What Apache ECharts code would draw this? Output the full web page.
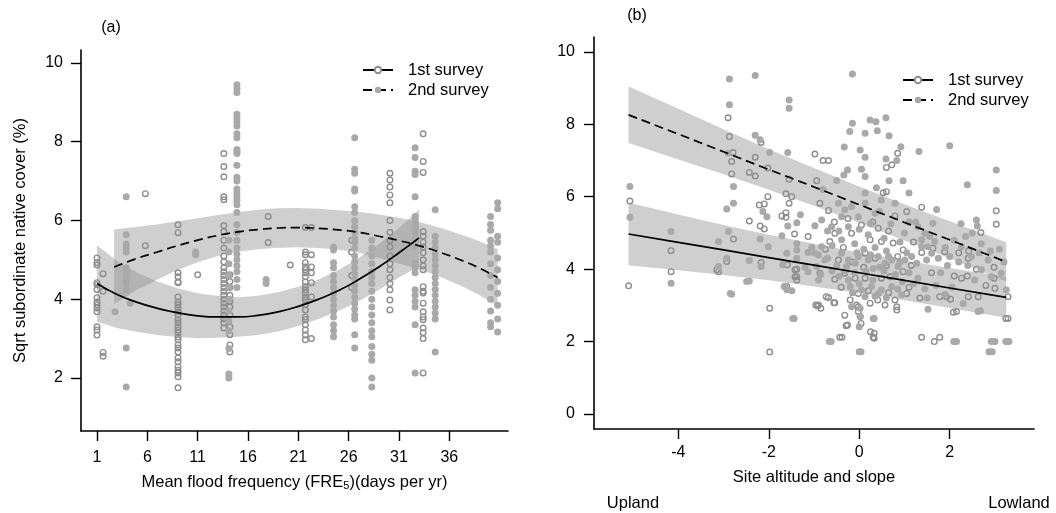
<!DOCTYPE html>
<html>
<head>
<meta charset="utf-8">
<script src="https://cdn.jsdelivr.net/npm/echarts@6/dist/echarts.min.js"></script>
<style>
html,body{margin:0;padding:0;background:#fff;}
#c{width:1056px;height:513px;}
</style>
</head>
<body>
<div id="c"></div>
<script>
// ---------- Panel (a) data ----------
const aXTicks = [1, 6, 11, 16, 21, 26, 31, 36];
const aYTicks = [2, 4, 6, 8, 10];
// 1st survey observations, grouped by flood frequency column
const aFirstCols = [
  [1, [5.05,4.93,4.87,4.42,4.37,4.25,4.04,3.93,3.86,3.78,3.68,3.30,3.22,3.09]],
  [1.6, [4.65,4.2,2.65,2.55]],
  [5.8, [6.68,5.36]],
  [9.05, [5.89,5.69,4.67,4.57,4.44,4.42,4.06,3.93,3.86,3.78,3.68,3.60,3.48,3.40,3.30,3.22,3.15,3.04,2.97,2.84,2.76,2.66,2.51,2.41,2.28,2.20,2.13,2.03,1.75]],
  [11, [4.62]],
  [13.6, [7.70,7.37,7.11,6.60,6.53,5.87,5.72,5.50,5.30,5.10,4.95,4.80,4.70,4.60,4.50,4.40,4.30,4.20,4.10,4.00,3.90,3.80,3.70,3.60,3.50,3.40,3.27]],
  [14.2, [4.62,4.45,4.30,4.10,3.95,3.80,3.60,3.30,3.10,2.84,2.66]],
  [18, [6.10,5.44]],
  [20.2, [4.87]],
  [21.7, [5.82,5.20,5.13,4.93,4.82,4.75,4.67,4.57,4.44,4.32,4.24,4.16,4.06,3.98,3.86,3.73,3.55,3.48,3.35,3.22,3.09,2.97]],
  [22.3, [5.82,5.13,4.82,4.67,4.42,4.06,3.00]],
  [26.3, [5.50,5.20,4.60,4.30]],
  [30.1, [7.20,7.03,6.85,6.65,6.45,6.00,5.70,5.50,5.33,5.10,4.90,4.75,4.55,4.40,4.24,3.98,3.73]],
  [33.4, [8.20,7.50,7.22,5.72,5.60,5.45,5.33,5.18,5.00,4.85,4.75,4.32,4.20,4.16,3.90,3.68,3.55,3.48,3.27,3.15,3.00,2.13]]
];
// 2nd survey observations
const aSecondCols = [
  [2.8, [3.68]],
  [3.9, [6.60,5.64,5.40,5.30,5.20,4.80,4.70,4.60,4.50,4.40,4.24,2.76,1.77]],
  [4.3, [3.90]],
  [10.8, [5.20,5.13]],
  [14.1, [5.50,5.20,4.90,4.60,4.30,4.00,3.70,3.45,3.20,2.75,2.10,2.00]],
  [14.9, [9.45,9.35,9.25,8.70,8.60,8.50,8.40,8.20,8.10,7.80,7.75,7.70,7.40,7.10,7.00,6.80,6.70,6.60,6.50,6.40,6.20,5.90,5.70,5.50,5.30,5.15,5.00,4.85,4.70,4.50,4.30]],
  [17.8, [4.50,4.40]],
  [24.5, [5.33,5.25,4.93,4.80,4.60,4.45,4.30,4.15,4.00,3.85,3.70,3.55,3.35,3.20,3.05]],
  [26.6, [8.10,7.30,7.20,6.80,6.75,6.35,6.20,6.00,5.85,5.70,5.55,5.45,5.30,5.10,4.95,4.80,4.65,4.50,4.35,4.20,4.05,3.90,3.75,3.60,3.50,3.10,2.76]],
  [28.3, [5.50,5.30,5.10,4.90,4.70,4.55,4.40,4.20,4.00,3.80,3.60,3.40,3.20,3.05,2.80,2.60,2.45,2.00,1.77]],
  [32.6, [7.85,7.60,7.25,7.17,6.60,6.10,6.00,5.85,5.70,5.50,5.35,4.93,4.80,4.67,4.24,4.10,3.95,3.80,3.35,2.13]],
  [34.6, [6.27,5.60,5.45,5.30,5.15,5.00,4.85,4.70,4.55,4.40,4.25,4.10,3.95,3.80,3.65,3.50,2.66]],
  [40.1, [6.10,5.90,5.75,5.50,5.35,5.20,4.90,4.60,4.30,4.00,3.70,3.40,3.30]],
  [40.8, [6.45,6.30,5.60,5.45,5.05,4.75,4.45,4.15,3.85,3.50,3.17]]
];
// fitted curves and confidence bands (a)
const aFitX1 = [1,3,5,7,9,11,13,15,17,19,21,23,25,27,29,31,33];
const aFit1  = [4.40,4.12,3.92,3.77,3.66,3.58,3.55,3.55,3.59,3.68,3.82,4.00,4.22,4.50,4.82,5.18,5.56];
const aHi1   = [5.37,4.97,4.67,4.45,4.28,4.15,4.08,4.05,4.09,4.18,4.32,4.50,4.74,5.05,5.40,5.81,6.28];
const aLo1   = [3.43,3.27,3.17,3.09,3.04,3.01,3.02,3.05,3.09,3.18,3.32,3.50,3.70,3.95,4.24,4.55,4.84];
const aFitX2 = [2.7,5,7,9,11,13,15,17,19,21,23,25,27,29,31,33,35,37,39,40.8];
const aFit2  = [4.82,5.04,5.20,5.36,5.50,5.62,5.71,5.77,5.81,5.82,5.80,5.76,5.70,5.60,5.49,5.36,5.20,5.01,4.79,4.55];
const aHi2   = [5.77,5.84,5.90,5.98,6.06,6.14,6.21,6.27,6.31,6.32,6.30,6.26,6.22,6.15,6.07,5.96,5.82,5.66,5.47,5.27];
const aLo2   = [3.87,4.24,4.50,4.74,4.94,5.10,5.21,5.27,5.31,5.32,5.30,5.26,5.18,5.05,4.91,4.76,4.58,4.36,4.11,3.83];

// ---------- Panel (b) data ----------
const bXTicks = [-4, -2, 0, 2];
const bYTicks = [0, 2, 4, 6, 8, 10];
const bFirstPts = [
  [-5.07,5.88],[-5.1,3.54],[-4.16,4.51],[-4.16,3.93],[-3.11,3.93],[-2.9,8.18],[-2.87,7.66],[-2.79,7.22],[-2.82,6.97],[-2.82,6.63],
  [-2.78,4.83],[-2.93,4.21],[-2.3,7.09],[-2.43,6.67],[-2.3,6.57],[-2.17,7.5],[-2.02,6.79],[-2.43,5.33],[-2.21,5.77],[-2.1,5.8],
  [-2.19,5.19],[-2.1,5.11],[-2.02,6.0],[-2.17,4.18],[-1.98,2.92],[-1.98,1.71],[-1.71,5.47],[-1.62,5.56],[-1.62,5.43],[-1.62,6.08],
  [-1.49,6.0],[-1.55,5.82],[-1.55,6.48],[-1.43,4.97],[-1.59,4.12],[-1.38,4.0],[-1.38,3.79],[-1.38,3.7],[-1.6,3.52],[-1.13,4.9],
  [-0.98,7.18],[-0.94,6.44],[-0.92,2.99],[-3.15,3.98],[-1.42,3.98],[-1.42,3.79],[-0.96,3.01],[-0.85,2.92],[-0.73,3.24],[-0.56,3.07],
  [-0.43,2.12],[-0.29,2.44],[-0.32,2.73],[-0.06,3.01],[-0.02,2.83],[0.02,2.69],[0.25,2.27],[0.31,2.12],[-0.68,7.0],[0.85,7.2],
  [0.6,6.81],[0.6,6.14],[0.72,6.88],[0.53,6.11],[-0.8,7.0],[3.03,5.61],[3.03,5.24],[1.38,5.71],[2.69,5.01],[-0.38,2.12],[1.38,2.12],
  [1.66,2.0],[1.78,2.12],[0.33,2.23],[0.33,2.09],[-0.26,2.46],[0.04,2.5],[-0.02,2.96],[3.29,3.24],[3.29,2.64],[2.15,2.83],
  [0.83,2.96],[0.83,2.87],[1.05,3.33],[1.34,3.2],[1.78,3.24],[1.93,3.24],[2.02,3.17],[2.41,3.24],[2.63,3.24],[2.98,4.05],
  [2.98,3.75],[3.0,3.47],[2.59,4.0],[1.38,4.46],[1.63,4.58],[1.89,4.48],[2.1,3.81],[2.26,3.75],[2.39,3.81],[2.41,4.3],
  [2.42,4.5],[-0.87,5.82],[-0.68,5.62],[-0.54,4.99],[-0.65,4.76],[-0.46,4.25],[-0.87,3.89],[-0.54,3.72],[-0.32,3.89],[-0.09,3.75],
  [0.13,3.75],[0.49,3.75],[0.68,3.79],[0.97,3.93],[-0.9,3.01],[-0.68,3.22],[-0.54,3.07],[-0.2,3.15],[-0.02,3.33],[0.24,3.06],
  [0.41,3.15],[0.57,3.01],[0.79,3.15],[-0.17,4.99],[0.05,5.22],[0.24,4.81],[0.49,4.76],[0.75,4.72],[0.97,4.53],[0.13,4.44],
  [0.42,5.13],[0.79,5.47],[1.05,5.59],[2.08,2.81],[3.24,2.64],
  [-0.75,4.55],[-0.35,4.6],[-0.15,4.2],[0.1,4.05],[0.35,4.3],[0.6,4.1],[0.85,4.35],[1.15,4.1],[-0.4,3.5],[0.2,3.4],
  [0.65,3.35],[1.1,3.5],[-0.25,5.4],[0.3,5.3],[0.65,5.05],[1.2,4.75],[-0.55,5.3],[1.6,3.9],[2.2,4.45],[2.8,3.55]
];
const bSecondPts = [
  [-5.07,6.28],[-5.07,5.43],[-4.16,5.04],[-4.16,3.61],[-3.11,4.76],[-3.11,4.07],[-2.87,9.25],[-2.3,9.35],[-2.87,8.54],[-1.55,8.67],
  [-1.55,8.44],[-2.3,7.7],[-2.19,7.57],[-1.98,7.22],[-1.58,7.22],[-2.9,7.2],[-2.78,6.28],[-2.78,5.82],[-2.93,5.66],[-2.89,5.04],
  [-2.93,4.3],[-2.82,3.31],[-2.43,4.24],[-2.43,3.67],[-2.13,5.59],[-2.04,5.45],[-2.19,4.83],[-2.01,4.62],[-2.17,4.07],[-1.44,2.64],
  [-1.71,4.92],[-1.58,5.19],[-1.38,5.28],[-1.38,4.7],[-1.6,4.44],[-1.38,4.53],[-1.38,4.3],[-1.64,3.52],[-1.49,3.4],[-1.13,4.46],
  [-1.13,3.93],[-0.9,4.39],[-0.9,3.7],[-0.98,5.2],[-1.69,4.12],[-2.85,3.33],[-2.49,3.66],[-1.66,3.52],[-1.6,3.43],[-1.47,2.64],
  [-0.66,2.0],[0,2.41],[0,1.72],[0.31,2.64],[1.52,2.89],[2.09,2.0],[2.63,2.83],[2.87,1.72],[2.92,2.0],[3.24,2.0],
  [-0.15,9.39],[-0.15,8.03],[0.24,8.12],[0.37,8.07],[0.59,8.18],[-0.21,7.8],[0.13,7.75],[0.4,7.82],[0.66,7.68],[-0.33,7.37],
  [0.02,7.29],[0.13,7.09],[0.92,7.38],[1.32,7.25],[2.0,7.41],[0.83,7.0],[0.59,7.04],[-0.26,6.74],[0.05,6.76],[0.13,6.56],
  [-0.34,6.6],[0.66,6.44],[0.97,6.44],[0.38,6.25],[2.39,6.33],[3.03,6.74],[3.03,6.17],[1.71,5.65],[1.63,5.27],[2.25,5.25],
  [2.59,5.36],[2.61,5.19],[-0.62,2.0],[0.04,1.72],[2.15,2.0],[2.94,1.72],[3.31,2.0],[3.0,2.0],[0.02,2.92],[0.02,2.69],
  [0.33,2.64],[2.68,2.85],[-0.98,4.44],[-0.83,4.62],[-0.76,4.25],[-0.94,4.07],[-0.39,4.44],[-0.24,4.25],[-0.28,4.07],[-0.09,4.16],
  [-0.02,4.35],[0.2,4.25],[0.31,4.02],[0.42,4.35],[0.57,4.16],[0.72,4.25],[0.86,4.07],[1.01,4.25],[1.16,4.35],[1.38,4.81],
  [1.45,4.99],[1.52,4.62],[-0.2,3.52],[0.05,3.43],[0.27,3.52],[0.49,3.43],[0.72,3.52],[0.13,3.24],[0.42,3.33],[-0.17,2.96],
  [0.94,3.29],[-0.24,3.7],[-0.83,5.36],[-0.61,5.17],[-0.39,5.45],[-0.32,5.64],[-0.46,5.82],[-0.24,5.17],[-0.39,4.81],[-0.02,5.45],
  [-0.17,5.73],[0.13,5.82],[0.35,5.54],[0.49,5.91],[0.79,5.82],[0.13,6.1],[1.3,5.17],[1.38,4.62],[1.49,4.25],[1.56,4.9],
  [1.6,4.44],[1.67,4.76],[1.27,4.16],[2.26,4.62],[2.48,4.35],[2.7,3.98],[2.92,3.79],[3.14,3.89],[2.85,4.25],[2.55,3.7],
  [3.25,3.43],[-0.6,3.95],[-0.45,3.8],[-0.1,3.9],[0.1,4.55],[0.35,4.6],[0.6,4.5],[0.8,3.85],[0.95,3.65],[1.1,3.9],
  [1.2,3.6],[0.0,3.6],[0.3,3.7],[0.55,3.95],[-0.7,4.3],[1.8,3.9],[1.95,4.1],[2.2,4.2],[1.7,3.55],[2.05,3.5],
  [1.9,4.6],[2.1,4.8],[2.35,4.9],[2.5,5.0],[2.7,4.7],[3.1,4.55],[3.2,4.2],[1.5,3.2],[1.9,3.3],[2.3,3.05],
  [-1.2,4.05],[-1.05,4.6],[-1.3,5.5],[-0.7,5.05],[-0.5,6.45],[-0.8,6.2],[1.1,6.1],[1.25,5.3],[1.0,5.0],[0.7,5.25],[0.45,5.6],
  [-0.5,4.1],[-0.3,3.95],[-0.05,4.45],[0.15,3.95],[0.25,4.4],[0.45,4.05],[0.65,4.35],[0.9,4.2],[1.05,4.45],[-0.85,3.85],
  [-0.15,3.35],[0.35,3.25],[0.6,3.2],[0.85,3.45],[1.3,3.75],[1.45,3.45],[-0.6,4.65],[-0.1,4.7],[0.2,4.95],[0.55,4.85],
  [0.9,4.75],[1.1,5.3],[-0.45,5.05],[0.0,5.1],[0.25,5.25],[1.75,4.3],[2.0,4.35],[2.4,4.1],[2.65,4.45],[2.9,4.5]
];
const bFitX = [-5.1,-4,-3,-2,-1,0,1,2,3.25];
const bFit1 = [4.97,4.74,4.53,4.32,4.11,3.90,3.69,3.48,3.22];
const bHi1  = [5.83,5.51,5.22,4.95,4.70,4.46,4.24,4.03,3.78];
const bLo1  = [4.11,3.97,3.84,3.69,3.52,3.34,3.14,2.93,2.66];
const bFit2 = [8.26,7.73,7.24,6.75,6.27,5.78,5.29,4.81,4.20];
const bHi2  = [9.04,8.43,7.86,7.31,6.79,6.28,5.79,5.32,4.74];
const bLo2  = [7.48,7.03,6.62,6.19,5.75,5.28,4.79,4.30,3.66];

// ---------- build ----------
const FONT = '"Liberation Sans", Arial, sans-serif';
const flat = cols => cols.flatMap(c => c[1].map(v => [c[0], v]));
const zip = (xs, ys) => xs.map((x, i) => [x, ys[i]]);
const rows = (xs, lo, hi) => xs.map((x, i) => [x, lo[i], hi[i]]);

function bandSeries(data, gi) {
  return {
    type: 'custom', xAxisIndex: gi, yAxisIndex: gi, z: 1, silent: true,
    encode: { x: 0, y: [1, 2] },
    data: data,
    renderItem: function (params, api) {
      if (params.dataIndex !== 0) return null;
      const up = data.map(r => api.coord([r[0], r[2]]));
      const dn = data.slice().reverse().map(r => api.coord([r[0], r[1]]));
      return { type: 'polygon', shape: { points: up.concat(dn) },
               style: { fill: 'rgba(140,140,140,0.42)' } };
    }
  };
}
function hollow(data, gi) {
  return { type: 'scatter', xAxisIndex: gi, yAxisIndex: gi, z: 2, silent: true,
    symbol: 'circle', symbolSize: 5.6, data: data,
    itemStyle: { color: 'rgba(0,0,0,0)', borderColor: '#8e8e8e', borderWidth: 1.4, opacity: 1 } };
}
function filled(data, gi) {
  return { type: 'scatter', xAxisIndex: gi, yAxisIndex: gi, z: 2, silent: true,
    symbol: 'circle', symbolSize: 7, data: data,
    itemStyle: { color: '#a9a9a9', opacity: 1 } };
}
function fitLine(name, data, gi, dashed, smooth) {
  return { name: name, type: 'line', xAxisIndex: gi, yAxisIndex: gi, z: 5, silent: true,
    data: data, smooth: smooth, showSymbol: false,
    symbol: dashed ? 'circle' : 'emptyCircle', symbolSize: 6,
    itemStyle: { color: dashed ? '#a9a9a9' : '#8e8e8e' },
    lineStyle: { color: '#000', width: 1.7, type: dashed ? [9, 5] : 'solid' } };
}
function xAx(gi, min, max, ticks, margin, name, gap) {
  return { type: 'value', gridIndex: gi, min: min, max: max,
    axisLine: { show: true, onZero: false, lineStyle: { color: '#000', width: 1.6 } },
    axisTick: { show: true, length: 10, customValues: ticks, lineStyle: { color: '#000', width: 1.4 } },
    axisLabel: { show: true, customValues: ticks, margin: margin, color: '#000', fontSize: 16, fontFamily: FONT },
    splitLine: { show: false },
    name: name, nameLocation: 'middle', nameGap: gap,
    nameTextStyle: { color: '#000', fontSize: 16.5, fontFamily: FONT,
      rich: { sub: { fontSize: 11, fontFamily: FONT, color: '#000', padding: [7, 0, 0, 0] } } } };
}
function yAx(gi, min, max, ticks, margin, name, gap) {
  return { type: 'value', gridIndex: gi, min: min, max: max,
    axisLine: { show: true, onZero: false, lineStyle: { color: '#000', width: 1.6 } },
    axisTick: { show: true, length: 10, customValues: ticks, lineStyle: { color: '#000', width: 1.4 } },
    axisLabel: { show: true, customValues: ticks, margin: margin, color: '#000', fontSize: 16, fontFamily: FONT },
    splitLine: { show: false },
    name: name, nameLocation: 'middle', nameGap: gap,
    nameTextStyle: { color: '#000', fontSize: 16.5, fontFamily: FONT } };
}
function legendAt(left, top) {
  return { orient: 'vertical', left: left, top: top, itemWidth: 30, itemHeight: 8, itemGap: 0,
    selectedMode: false, data: ['1st survey', '2nd survey'],
    textStyle: { color: '#000', fontSize: 16.5, fontFamily: FONT, lineHeight: 20, padding: [0, 0, 0, 10] } };
}

const chart = echarts.init(document.getElementById('c'), null, { renderer: 'canvas' });
chart.setOption({
  animation: false,
  backgroundColor: '#fff',
  grid: [
    { left: 81, top: 50, width: 427, height: 381, containLabel: false, outerBoundsMode: 'none' },
    { left: 594, top: 37, width: 440, height: 392, containLabel: false, outerBoundsMode: 'none' }
  ],
  xAxis: [
    xAx(0, -0.59, 41.83, aXTicks, 19, 'Mean flood frequency (FRE{sub|5})(days per yr)', 42),
    xAx(1, -5.864, 3.864, bXTicks, 16, 'Site altitude and slope', 40)
  ],
  yAxis: [
    yAx(0, 0.654, 10.33, aYTicks, 18, 'Sqrt subordinate native cover (%)', 52),
    yAx(1, -0.414, 10.41, bYTicks, 19, '', 40)
  ],
  legend: [legendAt(357, 55), legendAt(897, 65)],
  graphic: [
    { type: 'text', x: 111, y: 28, style: { text: '(a)', fontSize: 16, fontFamily: FONT, fill: '#000', align: 'center', verticalAlign: 'middle' } },
    { type: 'text', x: 637, y: 16, style: { text: '(b)', fontSize: 16, fontFamily: FONT, fill: '#000', align: 'center', verticalAlign: 'middle' } },
    { type: 'text', x: 633, y: 503, style: { text: 'Upland', fontSize: 16.5, fontFamily: FONT, fill: '#000', align: 'center', verticalAlign: 'middle' } },
    { type: 'text', x: 1019, y: 503, style: { text: 'Lowland', fontSize: 16.5, fontFamily: FONT, fill: '#000', align: 'center', verticalAlign: 'middle' } }
  ],
  series: [
    fitLine('1st survey', zip(aFitX1, aFit1), 0, false, true),
    fitLine('2nd survey', zip(aFitX2, aFit2), 0, true, true),
    fitLine('1st survey', zip(bFitX, bFit1), 1, false, false),
    fitLine('2nd survey', zip(bFitX, bFit2), 1, true, false),
    bandSeries(rows(aFitX1, aLo1, aHi1), 0),
    bandSeries(rows(aFitX2, aLo2, aHi2), 0),
    bandSeries(rows(bFitX, bLo1, bHi1), 1),
    bandSeries(rows(bFitX, bLo2, bHi2), 1),
    hollow(flat(aFirstCols), 0),
    filled(flat(aSecondCols), 0),
    hollow(bFirstPts, 1),
    filled(bSecondPts, 1)
  ]
});
</script>
</body>
</html>
